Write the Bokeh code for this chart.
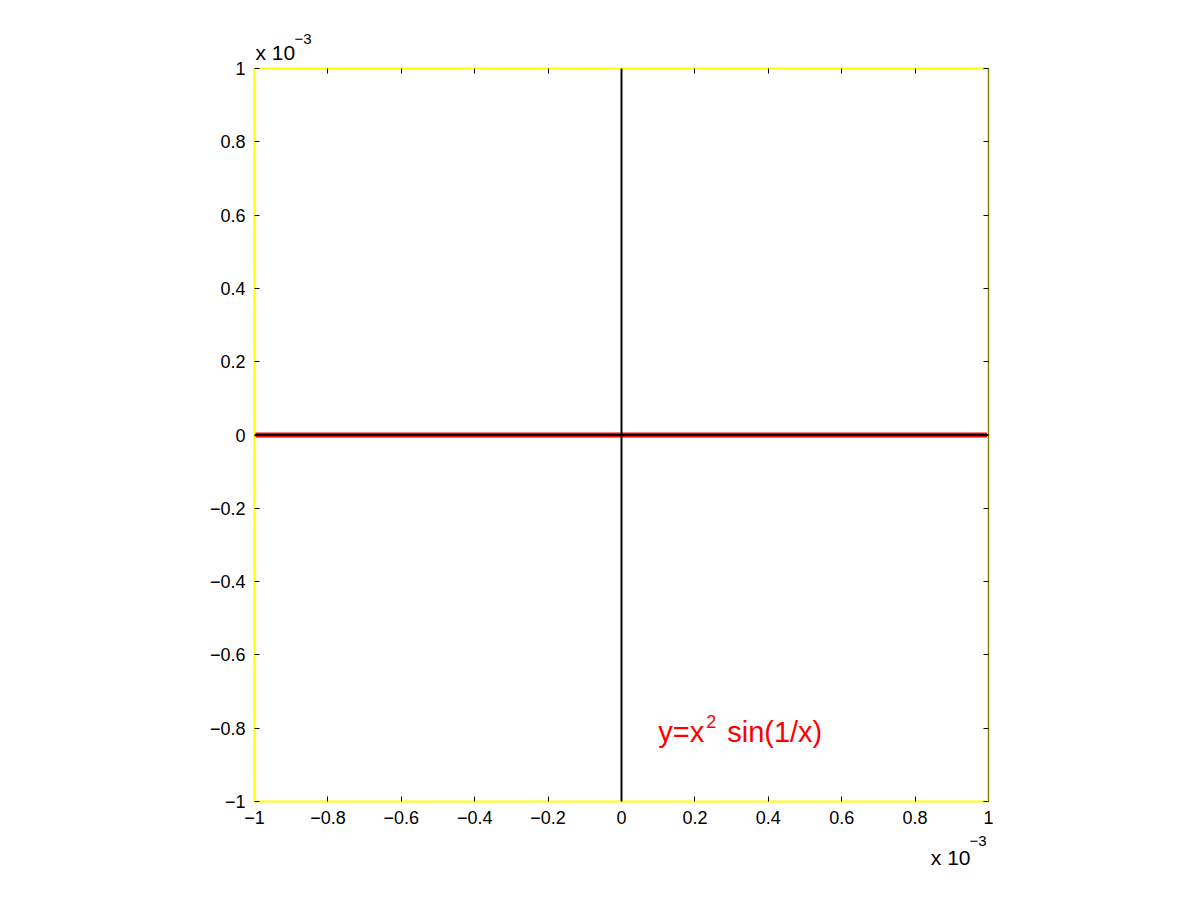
from bokeh.plotting import figure
from bokeh.models import (Range1d, FixedTicker, CustomJSTickFormatter, LinearAxis,
                          Span, Label, Title)
from bokeh.embed import file_html
from bokeh.resources import INLINE

# ---- data (curve y = x^2 sin(1/x) is visually flat at 0) ----
x_vals = [-1.0e-3, -0.9e-3, -0.8e-3, -0.7e-3, -0.6e-3, -0.5e-3, -0.4e-3, -0.3e-3,
          -0.2e-3, -0.1e-3, 0.0, 0.1e-3, 0.2e-3, 0.3e-3, 0.4e-3, 0.5e-3, 0.6e-3,
          0.7e-3, 0.8e-3, 0.9e-3, 1.0e-3]
y_vals = [0.0, 0.0, 0.0, 0.0, 0.0, 0.0, 0.0, 0.0, 0.0, 0.0, 0.0,
          0.0, 0.0, 0.0, 0.0, 0.0, 0.0, 0.0, 0.0, 0.0, 0.0]
x_ticks = [-1.0e-3, -0.8e-3, -0.6e-3, -0.4e-3, -0.2e-3, 0.0, 0.2e-3, 0.4e-3, 0.6e-3, 0.8e-3, 1.0e-3]
y_ticks = [-1.0e-3, -0.8e-3, -0.6e-3, -0.4e-3, -0.2e-3, 0.0, 0.2e-3, 0.4e-3, 0.6e-3, 0.8e-3, 1.0e-3]
x_lim = (-1.0e-3, 1.0e-3)
y_lim = (-1.0e-3, 1.0e-3)

FONT = "Liberation Sans"
YELLOW = "#ffff00"

p = figure(width=1185, height=885, frame_width=734, frame_height=733,
           x_range=Range1d(*x_lim), y_range=Range1d(*y_lim),
           output_backend="svg", toolbar_location=None, title=None,
           min_border_left=254, min_border_right=197,
           min_border_top=68, min_border_bottom=84,
           x_axis_location=None, y_axis_location=None)
p.grid.visible = False
p.outline_line_color = None
p.background_fill_color = "white"
p.border_fill_color = "white"

fmt_code = """
const v = Math.round(tick*1e4)/10;
let s = Number.isInteger(v) ? v.toFixed(0) : v.toFixed(1);
return s.replace('-', '\\u2212');
"""

def make_axis(ticks, labels=True, line_width=2):
    ax = LinearAxis(ticker=FixedTicker(ticks=ticks),
                    formatter=CustomJSTickFormatter(code=fmt_code if labels else "return '';"))
    ax.axis_line_color = YELLOW
    ax.axis_line_width = line_width
    ax.major_tick_in = 5
    ax.major_tick_out = 0
    ax.major_tick_line_color = "black"
    ax.major_tick_line_width = 1
    ax.minor_tick_line_color = None
    ax.major_label_text_font = FONT
    ax.major_label_text_color = "black"
    if labels:
        ax.major_label_text_font_size = "18px"
        ax.major_label_standoff = 9
    else:
        ax.major_label_text_font_size = "0px"
        ax.major_label_standoff = 0
    return ax

def title(text, size, align, offset, standoff):
    return Title(text=text, align=align, offset=offset, standoff=standoff,
                 text_font=FONT, text_font_size=size, text_font_style="normal",
                 text_color="black", vertical_align="bottom")

p.add_layout(make_axis(x_ticks, True, 2), "below")
p.add_layout(make_axis(y_ticks, True, 2), "left")
p.add_layout(make_axis(x_ticks, False, 2), "above")
p.add_layout(make_axis(y_ticks, False, 3), "right")

# exponent notes "x 10^-3" (top-left and bottom-right)
p.add_layout(title("x 10", "21px", "left", 1, 10), "above")
p.add_layout(title("\u22123", "15px", "left", 40, -20), "above")
p.add_layout(title("\u22123", "15px", "right", 2, 14), "below")
p.add_layout(title("x 10", "21px", "right", 18, -17), "below")

# curve
p.line(x_vals, y_vals, line_color="#ff0000", line_width=5)

# coordinate axes through the origin, and dark right edge of the box
p.add_layout(Span(location=0.0, dimension="width", line_color="black", line_width=2))
p.add_layout(Span(location=0.0, dimension="height", line_color="black", line_width=2))
p.add_layout(Span(location=x_lim[1], dimension="height", line_color="black", line_width=1))

# annotation y=x^2 sin(1/x)
ann_x, ann_y = 1.0e-4, -8.1e-4
p.add_layout(Label(x=ann_x, y=ann_y, text="y=x", text_font=FONT, text_font_size="29px",
                   text_color="#ff0000", text_baseline="alphabetic"))
p.add_layout(Label(x=ann_x, y=ann_y, x_offset=48, y_offset=10, text="2", text_font=FONT,
                   text_font_size="18px", text_color="#ff0000", text_baseline="alphabetic"))
p.add_layout(Label(x=ann_x, y=ann_y, x_offset=69, text="sin(1/x)", text_font=FONT,
                   text_font_size="29px", text_color="#ff0000", text_baseline="alphabetic"))

open("out.html", "w").write(file_html(p, INLINE))
